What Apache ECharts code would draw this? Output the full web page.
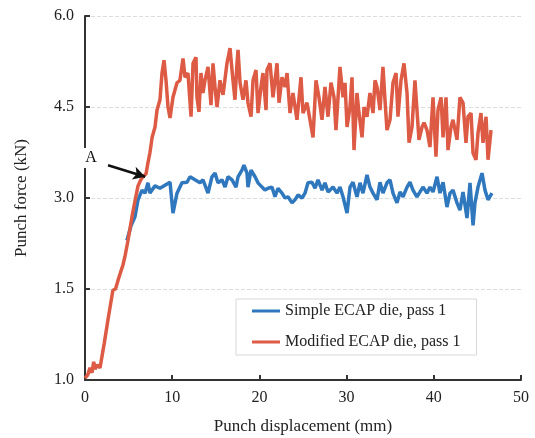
<!DOCTYPE html>
<html>
<head>
<meta charset="utf-8">
<script src="https://cdn.jsdelivr.net/npm/echarts@6/dist/echarts.min.js"></script>
<style>html,body{margin:0;padding:0;background:#fff}#c{width:535px;height:438px}</style>
</head>
<body>
<div id="c"></div>
<script>
// Axis position values (the y axis in the source is drawn with evenly spaced ticks
// labelled 1.0, 1.5, 3.0, 4.5, 6.0; values below are positions on that drawn scale 0..6)
const xTicks = [0, 10, 20, 30, 40, 50];
const yTickPositions = [0, 1.5, 3, 4.5, 6];
const yTickLabels = ['1.0', '1.5', '3.0', '4.5', '6.0'];
const seriesNames = ['Simple ECAP die, pass 1', 'Modified ECAP die, pass 1'];

// Simple ECAP die, pass 1
const simpleX = [4.8,5.3,5.73,6.08,6.54,6.88,7.22,7.45,7.68,8.03,8.6,9.17,9.75,10.09,10.55,11.12,11.7,12.04,12.61,13.19,13.53,14.11,14.56,14.91,15.25,15.71,16.06,16.4,16.86,17.32,17.55,18.0,18.23,18.58,18.69,19.04,19.5,19.84,20.3,20.64,20.99,21.44,21.79,22.13,22.59,22.94,23.28,23.74,24.08,24.43,24.89,25.23,25.57,26.03,26.38,26.72,27.18,27.52,27.87,28.1,28.44,28.9,29.24,29.59,30.05,30.39,30.73,31.19,31.54,31.88,32.34,32.68,33.03,33.49,33.83,34.17,34.63,34.98,35.32,35.78,36.12,36.47,36.93,37.27,37.61,38.07,38.42,38.76,39.22,39.56,39.91,40.37,40.71,41.06,41.51,41.86,42.2,42.66,43.0,43.35,43.81,44.15,44.5,44.72,45.07,45.53,45.87,46.22,46.67];
const simpleY = [2.3,2.55,2.69,2.97,3.13,3.08,3.25,3.08,3.13,3.2,3.16,3.21,3.26,2.75,3.08,3.25,3.26,3.35,3.3,3.25,3.3,3.08,3.35,3.41,3.25,3.3,3.18,3.35,3.3,3.18,3.35,3.46,3.54,3.41,3.18,3.46,3.35,3.25,3.18,3.13,3.16,3.18,3.02,3.16,3.08,3.0,3.02,2.92,2.97,3.05,3.0,3.08,3.25,3.26,3.16,3.3,3.13,3.25,3.1,3.13,3.18,3.08,3.18,3.02,2.75,3.18,3.26,3.02,3.25,3.08,3.38,3.18,3.08,2.97,3.26,3.08,3.25,3.3,3.08,2.92,3.1,3.02,3.18,3.26,3.13,3.02,3.1,3.18,3.08,3.18,3.1,3.35,3.08,3.26,2.85,3.08,3.13,2.92,2.8,3.1,2.67,3.25,2.55,2.92,3.18,3.41,3.13,2.97,3.08];

// Modified ECAP die, pass 1
const modX = [0.0,0.3,0.57,0.8,1.0,1.15,1.4,1.72,2.2,2.7,3.2,3.5,3.8,4.36,4.6,4.93,5.4,5.73,6.08,6.4,6.65,7.0,7.22,7.45,7.7,8.03,8.26,8.6,8.83,9.06,9.29,9.52,9.75,10.09,10.55,10.89,11.24,11.47,11.81,12.16,12.39,12.73,12.84,13.07,13.3,13.53,13.76,14.11,14.45,14.68,14.91,15.14,15.48,15.83,16.28,16.63,16.97,17.2,17.43,17.55,17.78,18.12,18.46,18.69,19.04,19.27,19.61,19.84,20.18,20.41,20.76,20.87,21.22,21.56,22.02,22.25,22.59,22.94,23.17,23.51,23.85,24.31,24.77,25.0,25.46,25.8,26.15,26.49,26.83,27.18,27.52,27.87,28.21,28.56,28.78,29.24,29.59,29.82,30.05,30.39,30.62,30.85,31.19,31.42,31.77,32.0,32.34,32.68,33.03,33.26,33.49,33.83,34.17,34.4,34.63,34.98,35.32,35.67,35.89,36.24,36.58,36.93,37.16,37.5,37.84,38.07,38.3,38.65,38.88,39.22,39.56,39.91,40.25,40.48,40.83,41.06,41.4,41.63,41.97,42.2,42.66,43.0,43.35,43.69,43.92,44.27,44.5,44.84,45.07,45.41,45.64,45.99,46.22,46.56];
const modY = [0.03,0.08,0.2,0.12,0.3,0.18,0.25,0.2,0.6,1.05,1.48,1.5,1.65,1.9,2.05,2.3,2.7,2.95,3.2,3.3,3.35,3.4,3.58,3.75,4.0,4.17,4.45,4.62,5.06,5.27,4.94,4.5,4.32,4.66,4.9,4.94,5.3,4.99,5.06,4.34,5.22,5.32,4.66,4.42,5.06,4.73,4.94,5.16,4.53,5.22,4.83,4.5,4.94,4.7,5.22,5.47,4.94,4.62,5.22,5.44,4.9,4.62,4.94,4.57,4.34,4.94,5.11,4.4,4.83,5.06,4.45,5.11,5.22,4.66,5.22,4.57,4.99,4.83,5.06,4.4,4.73,4.29,4.99,4.4,4.57,4.29,4.0,4.94,4.66,4.29,4.83,4.34,4.9,4.66,4.12,5.16,4.66,4.9,4.17,4.5,4.99,3.79,4.73,4.4,4.0,4.5,4.34,4.73,4.4,4.94,4.83,4.45,5.16,4.62,4.12,4.29,4.9,5.06,4.34,4.94,5.22,4.73,3.91,4.17,4.94,4.45,3.96,4.17,4.24,4.12,3.84,4.66,3.68,4.45,4.66,4.0,4.66,3.79,4.17,4.29,3.96,4.66,4.57,3.91,4.34,4.4,3.74,3.63,4.07,4.4,3.91,4.34,3.63,4.12];

// Annotation "A": arrow from label to the point on the modified curve
const annotLabel = 'A';
const annotFrom = [2.64, 3.54];
const annotTo = [6.9, 3.35];
const annotLabelAt = [0.69, 3.66];

const zip = (xs, ys) => xs.map((x, i) => [x, ys[i]]);
const font = "'Liberation Serif', 'Times New Roman', serif";

const chart = echarts.init(document.getElementById('c'), null, {renderer: 'canvas'});
chart.setOption({
  animation: false,
  backgroundColor: '#fff',
  textStyle: {fontFamily: font},
  grid: {left: 85, right: 14, top: 16, bottom: 58, containLabel: false, outerBoundsMode: 'none'},
  legend: {
    left: 236, top: 299,
    orient: 'vertical',
    itemWidth: 28, itemHeight: 3, itemGap: 15,
    icon: 'rect',
    padding: [4, 16, 5, 16],
    borderColor: '#d8d8d8', borderWidth: 1,
    backgroundColor: '#fff',
    textStyle: {fontFamily: font, fontSize: 16, color: '#222'},
    data: seriesNames
  },
  xAxis: {
    type: 'value', min: xTicks[0], max: xTicks[xTicks.length - 1], interval: 10,
    name: 'Punch displacement (mm)', nameLocation: 'middle', nameGap: 38,
    nameTextStyle: {fontFamily: font, fontSize: 17, color: '#222'},
    axisLine: {lineStyle: {color: '#333', width: 2}},
    axisTick: {inside: true, length: 5, lineStyle: {color: '#333', width: 2}},
    axisLabel: {fontFamily: font, fontSize: 16, color: '#222', margin: 10},
    splitLine: {show: false}
  },
  yAxis: {
    type: 'value', min: 0, max: 6, interval: 1.5,
    name: 'Punch force (kN)', nameLocation: 'middle', nameGap: 55,
    nameTextStyle: {fontFamily: font, fontSize: 17, color: '#222'},
    axisLine: {show: true, lineStyle: {color: '#333', width: 2}},
    axisTick: {show: true, inside: true, length: 5, lineStyle: {color: '#333', width: 2}},
    axisLabel: {
      fontFamily: font, fontSize: 16, color: '#222', margin: 11,
      formatter: v => { const i = yTickPositions.indexOf(v); return i >= 0 ? yTickLabels[i] : ''; }
    },
    splitLine: {show: true, lineStyle: {color: '#dddddd', type: [4, 2], width: 1}}
  },
  series: [
    {
      name: seriesNames[0], type: 'line', showSymbol: false,
      data: zip(simpleX, simpleY),
      lineStyle: {color: '#2f78bd', width: 3.5}, itemStyle: {color: '#2f78bd'},
      z: 2
    },
    {
      name: seriesNames[1], type: 'line', showSymbol: false,
      data: zip(modX, modY),
      lineStyle: {color: '#dd5a44', width: 3.5}, itemStyle: {color: '#dd5a44'},
      z: 3,
      markLine: {
        silent: true, symbol: ['none', 'arrow'], symbolSize: [10, 12],
        lineStyle: {color: '#111', width: 2.5, type: 'solid'},
        label: {show: false},
        data: [[{coord: annotFrom}, {coord: annotTo}]]
      },
      markPoint: {
        silent: true, symbol: 'rect', symbolSize: [18, 20],
        itemStyle: {color: '#fff'},
        label: {show: true, formatter: annotLabel, color: '#111', fontFamily: font, fontSize: 16},
        data: [{coord: annotLabelAt}]
      }
    }
  ]
});
</script>
</body>
</html>
